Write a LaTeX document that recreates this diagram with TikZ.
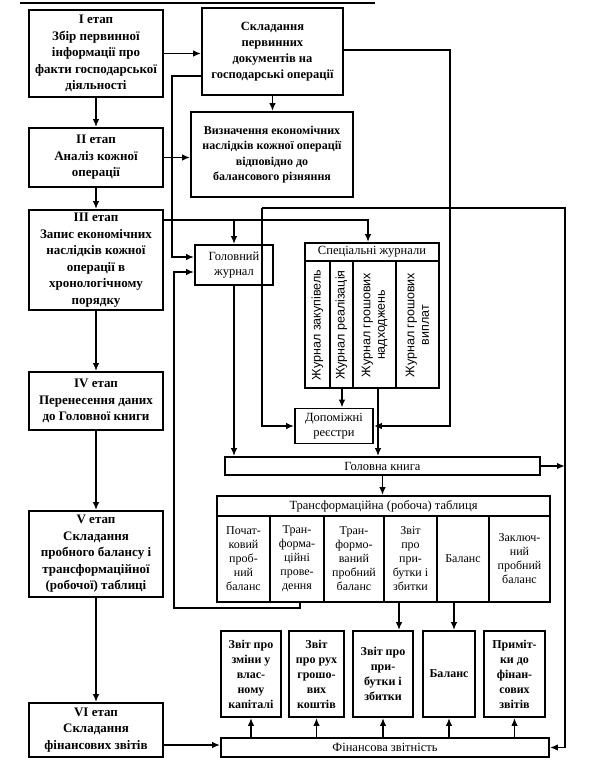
\documentclass[tikz,border=0pt]{standalone}
\usepackage{fontspec}
\setmainfont{Liberation Serif}
\newfontfamily\mysans{Liberation Sans}
\usetikzlibrary{arrows.meta}
\newcommand{\mybig}{\fontsize{13}{16.5}\selectfont\bfseries}
\newcommand{\mymid}{\fontsize{12.5}{16}\selectfont\bfseries}
\newcommand{\myeff}{\fontsize{12}{15.5}\selectfont\bfseries}
\newcommand{\myreg}{\fontsize{12.5}{15}\selectfont}
\newcommand{\mysmall}{\fontsize{12}{14}\selectfont}
\newcommand{\mybot}{\fontsize{12}{15}\selectfont\bfseries}
\newcommand{\myrot}{\mysans\fontsize{12.5}{14.5}\selectfont}
\begin{document}
\begin{tikzpicture}[x=1pt,y=-1pt,
  box/.style={draw, line width=1.8pt, inner sep=0pt, align=center},
  stage/.style={box, font=\mybig, minimum width=134pt},
  ln/.style={line width=1.8pt},
  arr/.style={line width=1.8pt, -{Latex[length=8pt,width=6.5pt]}},
  txt/.style={inner sep=0pt, align=center}]
\fill[white] (0,0) rectangle (600,768);
\useasboundingbox (0,0) rectangle (600,768);
\draw[line width=2pt] (20,3) -- (375,3);
% left column
\node[stage, minimum height=87pt] (s1) at (96,53.5) {I етап\\Збір первинної\\інформації про\\факти господарської\\діяльності};
\node[stage, minimum height=59pt] (s2) at (96,157.5) {II етап\\Аналіз кожної\\операції};
\node[stage, minimum height=100pt] (s3) at (96,260) {III етап\\Запис економічних\\наслідків кожної\\операції в\\хронологічному\\порядку};
\node[stage, minimum height=58pt] (s4) at (96,401) {IV етап\\Перенесення даних\\до Головної книги};
\node[stage, minimum height=86pt] (s5) at (96,554) {V етап\\Складання\\пробного балансу і\\трансформаційної\\(робочої) таблиці};
\node[stage, minimum height=54pt] (s6) at (96,730) {VI етап\\Складання\\фінансових звітів};
% upper middle
\node[box, font=\mymid, minimum width=141pt, minimum height=87pt] (doc) at (272.5,51.5) {Складання\\первинних\\документів на\\господарські операції};
\node[box, font=\myeff, minimum width=162pt, minimum height=85pt] (eff) at (272,154.5) {Визначення економічних\\наслідків кожної операції\\відповідно до\\балансового різняння};
\node[box, font=\myreg, minimum width=78pt, minimum height=40pt] (gj) at (234,265) {Головний\\журнал};
% special journals
\node[box, minimum width=134pt, minimum height=145pt] (sj) at (372,315.5) {};
\node[txt, font=\myreg] (sjh) at (372,252) {Спеціальні журнали};
\draw[ln] (305,261) -- (439,261);
\draw[ln] (330,261) -- (330,388);
\draw[ln] (353,261) -- (353,388);
\draw[ln] (396,261) -- (396,388);
\node[txt, font=\myrot, rotate=90] (j1) at (317.5,325) {Журнал закупівель};
\node[txt, font=\myrot, rotate=90] (j2) at (341.5,325) {Журнал реалізація};
\node[txt, font=\myrot, rotate=90] (j3) at (374.5,325) {Журнал грошових\\надходжень};
\node[txt, font=\myrot, rotate=90] (j4) at (417.5,325) {Журнал грошових\\виплат};
\node[box, font=\myreg, minimum width=78pt, minimum height=35pt] (dr) at (334,426) {Допоміжні\\реєстри};
\node[box, font=\myreg, minimum width=315pt, minimum height=18pt] (gk) at (382.5,466) {Головна книга};
% transformation table
\node[box, minimum width=333pt, minimum height=106pt] (tt) at (383.5,549) {};
\node[txt, font=\myreg] (tth) at (383.5,506) {Трансформаційна (робоча) таблиця};
\draw[ln] (217,516) -- (550,516);
\foreach \xx in {270,324,384,437,489} \draw[ln] (\xx,516) -- (\xx,602);
\node[txt, font=\mysmall] (t1) at (243.5,559) {Почат-\\ковий\\проб-\\ний\\баланс};
\node[txt, font=\mysmall] (t2) at (297,559) {Тран-\\форма-\\ційні\\прове-\\дення};
\node[txt, font=\mysmall] (t3) at (354,559) {Тран-\\формо-\\ваний\\пробний\\баланс};
\node[txt, font=\mysmall] (t4) at (410.5,559) {Звіт\\про\\при-\\бутки і\\збитки};
\node[txt, font=\mysmall] (t5) at (463,559) {Баланс};
\node[txt, font=\mysmall] (t6) at (519.5,559) {Заключ-\\ний\\пробний\\баланс};
% bottom boxes
\node[box, font=\mybot, minimum width=60pt, minimum height=86pt] (b1) at (251,674) {Звіт про\\зміни у\\влас-\\ному\\капіталі};
\node[box, font=\mybot, minimum width=55pt, minimum height=86pt] (b2) at (316.5,674) {Звіт\\про рух\\грошо-\\вих\\коштів};
\node[box, font=\mybot, minimum width=60pt, minimum height=86pt] (b3) at (383,674) {Звіт про\\при-\\бутки і\\збитки};
\node[box, font=\mybot, minimum width=52pt, minimum height=86pt] (b4) at (449,674) {Баланс};
\node[box, font=\mybot, minimum width=61pt, minimum height=86pt] (b5) at (514.5,674) {Приміт-\\ки до\\фінан-\\сових\\звітів};
\node[box, font=\myreg, minimum width=328pt, minimum height=19pt] (fz) at (385,747.5) {Фінансова звітність};
% helper coordinates
\coordinate (k1) at (262,208);
\coordinate (k2) at (565,208);
\coordinate (h220) at (0,220);
\coordinate (drn) at (342,0);
\coordinate (c378) at (378,0);
\coordinate (c399) at (399,0);
\coordinate (c454) at (454,0);
\coordinate (h745) at (0,745);
% left column arrows
\draw[arr] (s1.south) -- (s2.north);
\draw[arr] (s2.south) -- (s3.north);
\draw[arr] (s3.south) -- (s4.north);
\draw[arr] (s4.south) -- (s5.north);
\draw[arr] (s5.south) -- (s6.north);
% upper connectors
\draw[arr] (s1.east) -- (s1.east -| doc.west);
\draw[arr] (doc.south) -- (doc.south |- eff.north);
\draw[arr] (s2.east) -- (s2.east -| eff.west);
\draw[arr] ([yshift=-24.5pt]doc.west) -- ++(-29,0) |- ([yshift=8pt]gj.west);
\draw[arr] (s3.east |- h220) -| ([xshift=-4pt]sj.north);
\draw[arr] (gj.north |- h220) -- (gj.north);
\draw[arr] ([xshift=-83.5pt]tt.south) -- ++(0,5) -- ++(-126,0) |- ([yshift=-7pt]gj.west);
\draw[arr] ([yshift=1.5pt]doc.east) -- ++(106,0) |- (dr.east);
\draw[arr] (k1) |- (dr.west);
\draw[arr] (k1) -- (k2) |- (fz.east);
% middle connectors
\draw[arr] (gj.south) -- (gj.south |- gk.north);
\draw[arr] (drn |- sj.south) -- (drn |- dr.north);
\draw[arr] (c378 |- sj.south) -- (c378 |- gk.north);
\draw[arr] (gk.east) -- (gk.east -| k2);
\draw[arr] (gk.south) -- (gk.south |- tt.north);
\draw[arr] (c399 |- tt.south) -- (c399 |- b3.north);
\draw[arr] (c454 |- tt.south) -- (c454 |- b4.north);
% bottom connectors
\draw[arr] (b1.south |- fz.north) -- (b1.south);
\draw[arr] (b2.south |- fz.north) -- (b2.south);
\draw[arr] (b3.south |- fz.north) -- (b3.south);
\draw[arr] (b4.south |- fz.north) -- (b4.south);
\draw[arr] (b5.south |- fz.north) -- (b5.south);
\draw[arr] (s6.east |- h745) -- (fz.west |- h745);
\end{tikzpicture}
\end{document}
